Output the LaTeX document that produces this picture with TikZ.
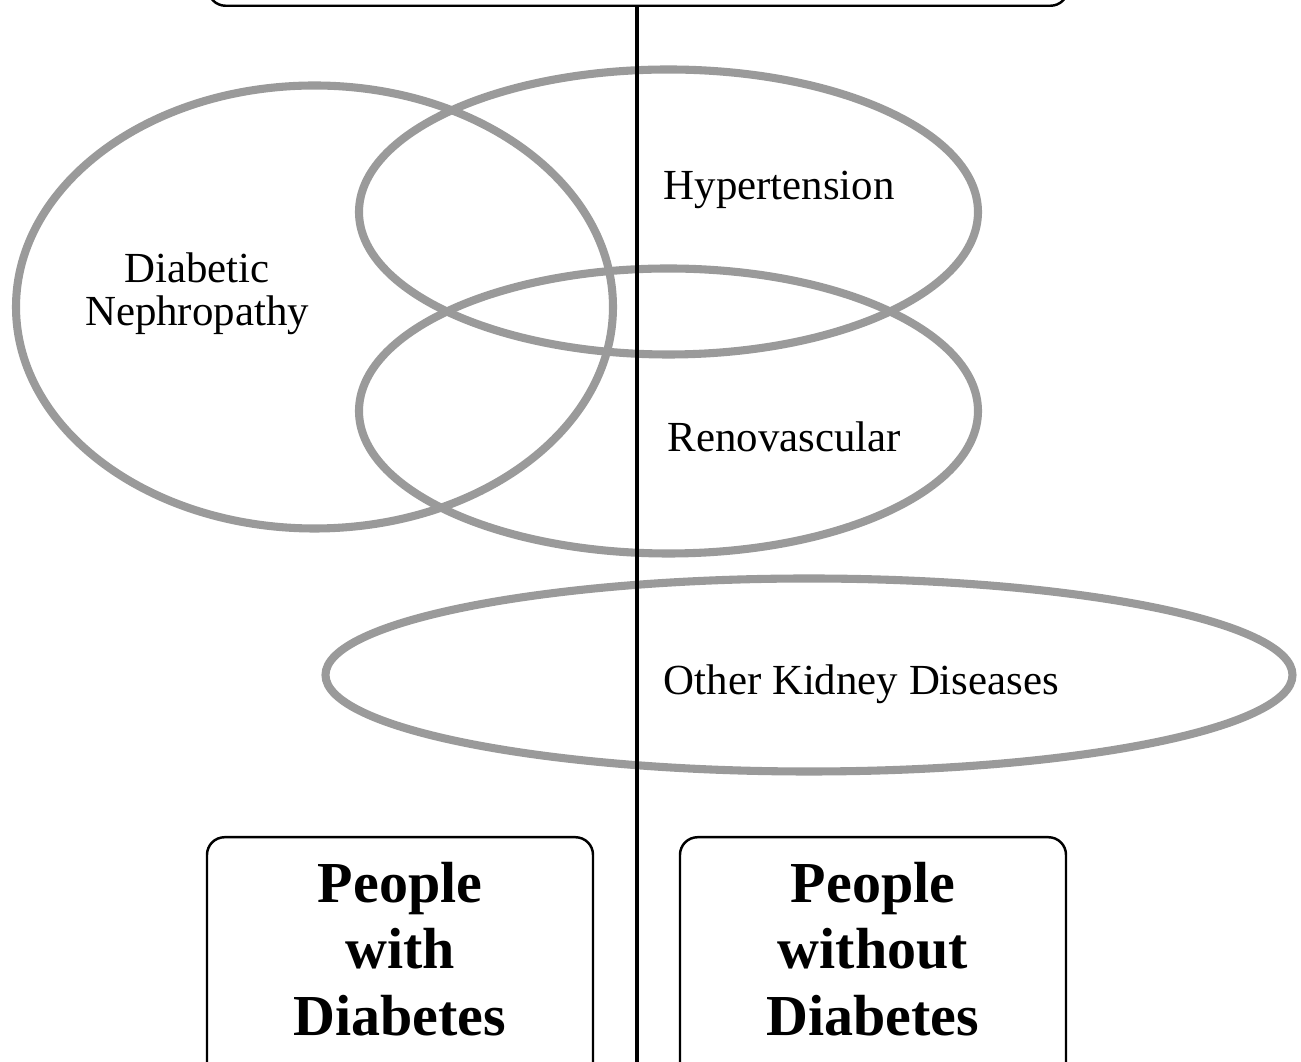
\documentclass[tikz,border=0pt]{standalone}
\usepackage{fontspec}
\setmainfont{Liberation Serif}
\usetikzlibrary{positioning, calc}
\usepackage{xcolor}
\definecolor{venngray}{HTML}{9A9A9A}

\begin{document}
\begin{tikzpicture}[
    venn/.style={draw=venngray, line width=2.3pt},
    label/.style={font=\fontsize{12.2}{12.5}\selectfont, inner sep=0pt, align=center},
    group/.style={rectangle, rounded corners=5pt, draw=black, line width=0.7pt,
                  text width=#1, align=center, inner sep=7pt,
                  font=\fontsize{16.5}{19}\selectfont\bfseries},
    divider/.style={line width=0.9pt, black}
  ]
    \useasboundingbox (0,0) rectangle (13.01,10.62);
    \clip (0,0) rectangle (13.01,10.62);
    % the four disease groups
    \draw[venn] (3.145,7.55) ellipse [x radius=2.985, y radius=2.215];
    \draw[venn] (6.685,8.50) ellipse [x radius=3.095, y radius=1.425];
    \draw[venn] (6.685,6.51) ellipse [x radius=3.095, y radius=1.425];
    \draw[venn] (8.09,3.87) ellipse [x radius=4.835, y radius=0.965];
    \node[label, anchor=base] (dn) at (1.97,7.36) {Diabetic\\Nephropathy};
    \node[label, anchor=base west] (htn) at (6.63,8.62) {Hypertension};
    \node[label, anchor=base west] (renal) at (6.67,6.10) {Renovascular};
    \node[label, anchor=base west] (other) at (6.63,3.67) {Other Kidney Diseases};
    % boxes and the split
    \node[group=8.6cm-14pt, minimum height=0.8cm, anchor=south] (top) at (6.38,10.55) {};
    \node[group=3.86cm-14pt, anchor=north] (with) at (4.00,2.26)
      {People\\with\\Diabetes\rule[-14pt]{0pt}{14pt}};
    \node[group=3.86cm-14pt, anchor=north] (without) at (8.73,2.26)
      {People\\without\\Diabetes\rule[-14pt]{0pt}{14pt}};
    \coordinate (base) at (6.37,-0.3);
    \draw[divider] (top.south -| base) -- (base);
\end{tikzpicture}
\end{document}
